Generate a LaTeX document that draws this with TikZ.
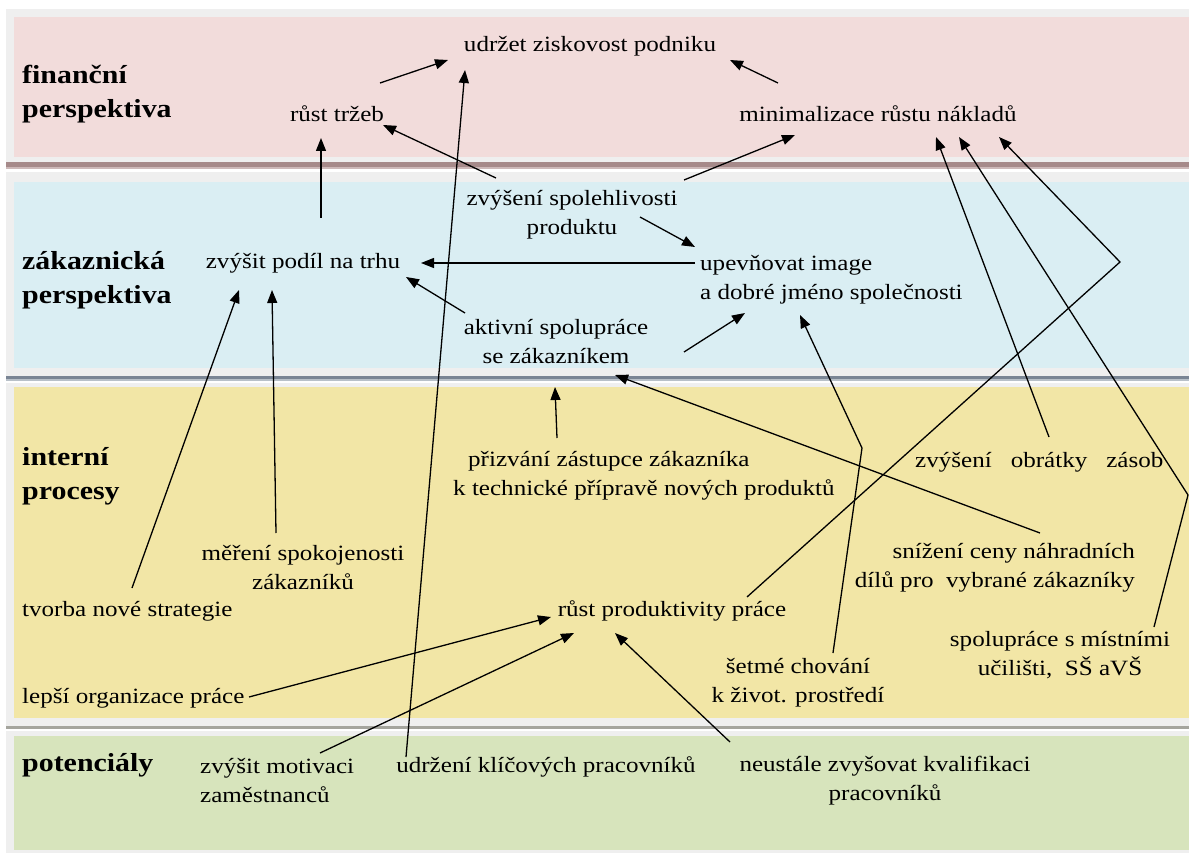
\documentclass[tikz,border=0pt]{standalone}
\usepackage{fontspec}
\setmainfont{Liberation Serif}[FakeStretch=1.15]
\usetikzlibrary{arrows.meta}
\definecolor{frame}{HTML}{EFEFEF}
\definecolor{pinkband}{HTML}{F2DCDB}
\definecolor{blueband}{HTML}{DAEEF3}
\definecolor{yellowband}{HTML}{F2E6A6}
\definecolor{greenband}{HTML}{D7E4BC}
\definecolor{sepA}{HTML}{A68A8A}
\definecolor{sepAl}{HTML}{CDB9B9}
\definecolor{sepB}{HTML}{7A8594}
\definecolor{sepBl}{HTML}{B8C0C8}
\definecolor{sepC}{HTML}{A5A59E}
\begin{document}
\begin{tikzpicture}[x=1pt,y=-1pt,
  lbl/.style={inner sep=0pt,font=\fontsize{21.8}{29}\selectfont},
  head/.style={inner sep=0pt,font=\fontsize{26}{34}\selectfont\bfseries,align=left,anchor=west},
  conn/.style={line width=1.3pt,-{Triangle[length=13pt,width=10pt]}}]
\useasboundingbox (0,0) rectangle (1189,853);
% bands
\fill[frame] (6,9) rectangle (1189,853);
\fill[pinkband] (14,17) rectangle (1189,157);
\fill[sepA] (6,162) rectangle (1189,167);
\fill[sepAl] (6,167) rectangle (1189,169);
\fill[white] (6,169) rectangle (1189,172);
\fill[blueband] (14,182) rectangle (1189,368);
\fill[sepB] (6,376) rectangle (1189,379);
\fill[sepBl] (6,379) rectangle (1189,381);
\fill[white] (6,381) rectangle (1189,383);
\fill[yellowband] (14,387) rectangle (1189,718);
\fill[sepC] (6,726) rectangle (1189,729);
\fill[white] (6,729) rectangle (1189,731);
\fill[greenband] (14,736) rectangle (1189,850);
% headings
\node[head] (hfin) at (22,94) {finanční\\perspektiva};
\node[head] (hzak) at (22,280) {zákaznická\\perspektiva};
\node[head] (hint) at (22,476) {interní\\procesy};
\node[head] (hpot) at (22,765) {potenciály};
% nodes
\node[lbl] (udrz) at (590,46) {udržet ziskovost podniku};
\node[lbl] (rust) at (337,114) {růst tržeb};
\node[lbl] (mini) at (878,114) {minimalizace růstu nákladů};
\node[lbl,align=center] (spol) at (572,215) {zvýšení spolehlivosti\\produktu};
\node[lbl] (podil) at (303,263) {zvýšit podíl na trhu};
\node[lbl,align=left,anchor=west] (image) at (700,280) {upevňovat image\\a dobré jméno společnosti};
\node[lbl,align=center] (aktiv) at (556,342) {aktivní spolupráce\\se zákazníkem};
\node[lbl,align=left,anchor=west] (priz) at (453,476) {\hspace*{15pt}přizvání zástupce zákazníka\\k technické přípravě nových produktů};
\node[lbl,anchor=west] (obrat) at (915,462) {zvýšení\hspace{19pt}obrátky\hspace{19pt}zásob};
\node[lbl,align=center] (mer) at (303,568) {měření spokojenosti\\zákazníků};
\node[lbl,align=right,anchor=east] (sniz) at (1135,568) {snížení ceny náhradních\\dílů pro\ \ vybrané zákazníky};
\node[lbl,anchor=west] (tvorba) at (22,611) {tvorba nové strategie};
\node[lbl] (prod) at (672,611) {růst produktivity práce};
\node[lbl,align=center] (spolm) at (1060,655) {spolupráce s místními\\učilišti,\ \ SŠ\ aVŠ};
\node[lbl,align=center] (setm) at (798,683) {šetmé chování\\k život. prostředí};
\node[lbl,anchor=west] (lepsi) at (22,698) {lepší organizace práce};
\node[lbl,align=left,anchor=west] (motiv) at (200,781) {zvýšit motivaci\\zaměstnanců};
\node[lbl] (klic) at (546,767) {udržení klíčových pracovníků};
\node[lbl,align=center] (kval) at (885,781) {neustále zvyšovat kvalifikaci\\pracovníků};
% connectors
\draw[conn] ([shift={(43,-31)}]rust.center) -- ([shift={(-142,14)}]udrz.center);
\draw[conn] ([shift={(-100,-31)}]mini.center) -- ([shift={(140,14)}]udrz.center);
\draw[conn] ([shift={(18,-45)}]podil.center) -- ([shift={(-16,24)}]rust.center);
\draw[conn] ([shift={(-76,-37)}]spol.center) -- ([shift={(46,11)}]rust.center);
\draw[conn] ([shift={(112,-35)}]spol.center) -- ([shift={(-83,21)}]mini.center);
\draw[conn] ([shift={(68,2)}]spol.center) -- ([shift={(-5,-33)}]image.west);
\draw[conn] ([shift={(-5,-17)}]image.west) -- ([shift={(118,0)}]podil.center);
\draw[conn] ([shift={(-91,-29)}]aktiv.center) -- ([shift={(103,14)}]podil.center);
\draw[conn] ([shift={(128,10)}]aktiv.center) -- ([shift={(45,33)}]image.west);
\draw[conn] ([shift={(-140,-10)}]klic.center) -- ([shift={(-125,24)}]udrz.center);
\draw[conn] ([shift={(110,-23)}]tvorba.west) -- ([shift={(-64,27)}]podil.center);
\draw[conn] ([shift={(-27,-35)}]mer.center) -- ([shift={(-31,27)}]podil.center);
\draw[conn] ([shift={(104,-38)}]priz.west) -- ([shift={(-1,45)}]aktiv.center);
\draw[conn] ([shift={(-95,-35)}]sniz.east) -- ([shift={(59,33)}]aktiv.center);
\draw[conn] ([shift={(35,-30)}]setm.center) -- ([shift={(64,-235)}]setm.center) -- ([shift={(100,35)}]image.west);
\draw[conn] ([shift={(75,-14)}]prod.center) -- ([shift={(448,-349)}]prod.center) -- ([shift={(121,23)}]mini.center);
\draw[conn] ([shift={(134,-25)}]obrat.west) -- ([shift={(58,23)}]mini.center);
\draw[conn] ([shift={(94,-28)}]spolm.center) -- ([shift={(128,-160)}]spolm.center) -- ([shift={(81,23)}]mini.center);
\draw[conn] ([shift={(227,-1)}]lepsi.west) -- ([shift={(-121,6)}]prod.center);
\draw[conn] ([shift={(120,-28)}]motiv.west) -- ([shift={(-98,22)}]prod.center);
\draw[conn] ([shift={(-155,-39)}]kval.center) -- ([shift={(-57,22)}]prod.center);
\end{tikzpicture}
\end{document}
